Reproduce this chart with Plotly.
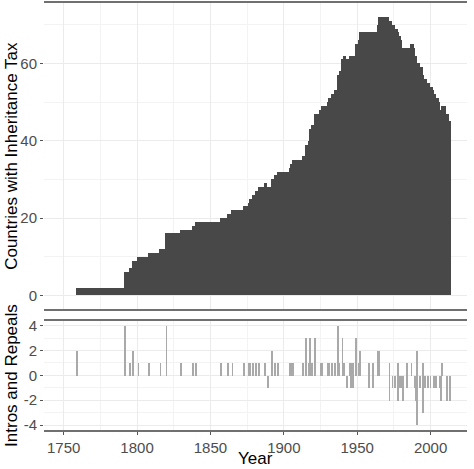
import plotly.graph_objects as go
from plotly.subplots import make_subplots

# countries with an inheritance tax, one value per year from 1759 to 2013
first_year = 1759
tax_counts = [
    2, 2, 2, 2, 2, 2, 2, 2, 2, 2,
    2, 2, 2, 2, 2, 2, 2, 2, 2, 2,
    2, 2, 2, 2, 2, 2, 2, 2, 2, 2,
    2, 2, 2, 6, 6, 6, 7, 7, 9, 9,
    9, 9, 10, 10, 10, 10, 10, 10, 10, 11,
    11, 11, 11, 11, 11, 11, 11, 12, 12, 12,
    12, 16, 16, 16, 16, 16, 16, 16, 16, 16,
    16, 17, 17, 17, 17, 17, 17, 17, 17, 18,
    18, 19, 19, 19, 19, 19, 19, 19, 19, 19,
    19, 19, 19, 19, 19, 19, 19, 19, 20, 20,
    20, 20, 20, 21, 21, 21, 22, 22, 22, 22,
    22, 22, 22, 22, 23, 23, 23, 24, 25, 25,
    26, 26, 27, 27, 28, 28, 28, 28, 29, 29,
    28, 28, 28, 30, 30, 31, 31, 32, 32, 32,
    32, 32, 32, 32, 32, 33, 34, 35, 35, 35,
    35, 35, 35, 35, 36, 36, 39, 39, 40, 43,
    44, 44, 47, 47, 47, 47, 48, 49, 49, 49,
    49, 50, 51, 51, 52, 52, 53, 53, 57, 58,
    58, 61, 62, 62, 61, 61, 62, 62, 62, 62,
    65, 65, 66, 68, 68, 68, 68, 68, 68, 68,
    68, 68, 68, 68, 68, 70, 72, 72, 72, 72,
    72, 72, 72, 71, 71, 70, 70, 69, 69, 68,
    67, 66, 64, 64, 64, 64, 64, 64, 65, 65,
    64, 62, 60, 60, 59, 59, 57, 56, 56, 55,
    55, 54, 54, 53, 52, 51, 51, 50, 48, 49,
    49, 49, 47, 47, 45,
]
years = list(range(first_year, first_year + len(tax_counts)))

# introductions (positive) and repeals (negative) per year
intro_years = [1759, 1792, 1795, 1797, 1801, 1808, 1816, 1820, 1830, 1838,
               1840, 1857, 1862, 1865, 1873, 1876, 1877, 1879, 1881, 1883,
               1887, 1892, 1894, 1896, 1904, 1905, 1906, 1913, 1915, 1917,
               1918, 1919, 1921, 1925, 1926, 1930, 1931, 1933, 1935, 1937,
               1938, 1940, 1941, 1945, 1946, 1947, 1949, 1951, 1952, 1958,
               1961, 1964, 1965, 1972, 1978, 1984, 1987, 1991, 1995, 2008]
intro_counts = [2, 4, 1, 2, 1, 1, 1, 4, 1, 1,
                1, 1, 1, 1, 1, 1, 1, 1, 1, 1,
                1, 2, 1, 1, 1, 1, 1, 1, 3, 1,
                3, 1, 3, 1, 1, 1, 1, 1, 1, 4,
                1, 3, 1, 1, 1, 1, 3, 1, 2, 1,
                1, 2, 2, 1, 1, 1, 1, 2, 1, 1]
repeal_years = [1889, 1943, 1946, 1947, 1958, 1961, 1972, 1974, 1976, 1978,
                1979, 1980, 1981, 1984, 1989, 1990, 1991, 1993, 1995, 1996,
                1998, 2000, 2002, 2003, 2004, 2006, 2007, 2011, 2013]
repeal_counts = [-1, -1, -1, -1, -1, -1, -2, -1, -1, -2,
                 -1, -1, -2, -1, -1, -2, -4, -1, -3, -1,
                 -1, -1, -1, -1, -1, -1, -2, -2, -2]

x_ticks = [1750, 1800, 1850, 1900, 1950, 2000]
top_ticks = [0, 20, 40, 60]
bottom_ticks = [-4, -2, 0, 2, 4]
bottom_tick_text = ["-4", "-2", "0", "2", "4"]

fig = make_subplots(rows=2, cols=1, shared_xaxes=True, vertical_spacing=0.0)

fig.add_trace(go.Bar(x=years, y=tax_counts, width=0.78,
                     marker=dict(color="#484848", line=dict(width=0))),
              row=1, col=1)
fig.add_trace(go.Bar(x=intro_years, y=intro_counts, width=0.55,
                     marker=dict(color="#a9a9a9", line=dict(width=0))),
              row=2, col=1)
fig.add_trace(go.Bar(x=repeal_years, y=repeal_counts, width=0.55,
                     marker=dict(color="#a9a9a9", line=dict(width=0))),
              row=2, col=1)

grid = "#ebebeb"
family = "Liberation Sans, Arial, sans-serif"
tick_font = dict(family=family, size=15, color="#4d4d4d")
title_font = dict(family=family, size=17, color="#000000")

xcommon = dict(range=[1736.6, 2024.8], tickvals=x_ticks, showgrid=True,
               gridcolor=grid, gridwidth=1.1, zeroline=False, automargin=False,
               showline=True, mirror=True, linecolor="#707070", linewidth=1.6,
               minor=dict(tickvals=[1775, 1825, 1875, 1925, 1975, 2025],
                          showgrid=True, gridcolor="#f3f3f3", gridwidth=0.6),
               tickfont=tick_font)

fig.update_xaxes(**xcommon)
fig.update_xaxes(showticklabels=False, ticks="", row=1, col=1)
fig.update_xaxes(ticks="outside", ticklen=3, tickcolor="#555555", row=2, col=1)

fig.update_yaxes(range=[-3.6, 75.6], tickvals=top_ticks, domain=[0.2827, 1.0],
                 showgrid=True, gridcolor=grid, gridwidth=1.1, zeroline=False,
                 automargin=False,
                 ticks="outside", ticklen=3, tickcolor="#555555",
                 minor=dict(tickvals=[10, 30, 50, 70], showgrid=True,
                            gridcolor="#f3f3f3", gridwidth=0.6),
                 tickfont=tick_font, row=1, col=1)
fig.update_yaxes(range=[-4.4, 4.4], tickvals=bottom_ticks, ticktext=bottom_tick_text,
                 domain=[0.0, 0.256],
                 showgrid=True, gridcolor=grid, gridwidth=1.1, zeroline=False,
                 automargin=False,
                 ticks="outside", ticklen=3, tickcolor="#555555",
                 minor=dict(tickvals=[-3, -1, 1, 3], showgrid=True,
                            gridcolor="#f3f3f3", gridwidth=0.6),
                 tickfont=tick_font, row=2, col=1)

# axis titles placed by hand
fig.add_annotation(text="Countries with Inheritance Tax", xref="paper", yref="paper",
                   x=-0.0757, y=0.642, textangle=-90, xanchor="center", yanchor="middle",
                   showarrow=False, font=title_font)
fig.add_annotation(text="Intros and Repeals", xref="paper", yref="paper",
                   x=-0.0757, y=0.129, textangle=-90, xanchor="center", yanchor="middle",
                   showarrow=False, font=title_font)
fig.add_annotation(text="Year", xref="paper", yref="paper", x=0.5, y=-0.066,
                   xanchor="center", yanchor="middle", showarrow=False,
                   font=title_font)

fig.update_layout(
    width=474, height=469,
    margin=dict(l=44, r=7, t=3, b=39),
    paper_bgcolor="white", plot_bgcolor="white",
    barmode="relative", bargap=0,
    showlegend=False,
)

# the page body has an 8px margin by default; drop it so the figure fills the window
fig.write_html("out.html", config={"displayModeBar": False},
               post_script="document.body.style.margin='0';")
